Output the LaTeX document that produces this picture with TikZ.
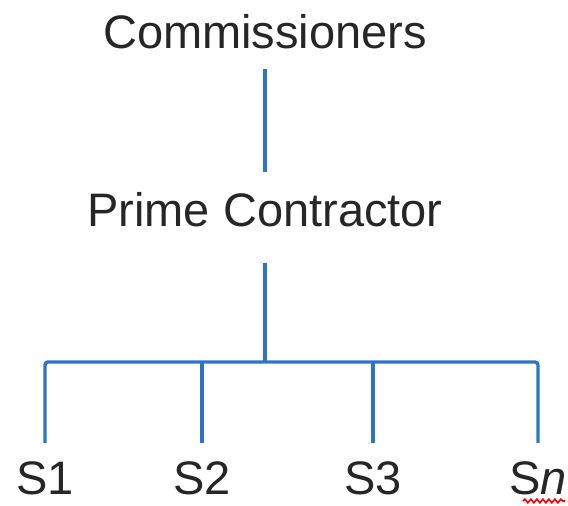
\documentclass[tikz,border=0pt]{standalone}
\usepackage{fontspec}
\setmainfont{Liberation Sans}
\usetikzlibrary{decorations.pathmorphing}
\definecolor{linkblue}{RGB}{46,117,198}

\begin{document}
\begin{tikzpicture}[x=1pt, y=-1pt,
  lbl/.style={font=\fontsize{47}{50}\selectfont, text=black!85, inner xsep=0pt, anchor=base},
  link/.style={linkblue, line width=3.4pt},
  spell/.style={red, line width=1.6pt, decorate,
    decoration={snake, amplitude=1.8pt, segment length=6pt}}]

\useasboundingbox (0,0) rectangle (568,506);

\node [lbl, inner ysep=20pt] (comm)  at (265, 48)  {Commissioners};
\node [lbl, inner ysep=20pt] (prime) at (265, 226) {Prime Contractor};

\node [lbl, inner ysep=18pt] (s1) at (45, 494)  {S1};
\node [lbl, inner ysep=18pt] (s2) at (202, 494) {S2};
\node [lbl, inner ysep=18pt] (s3) at (373, 494) {S3};
\node [lbl, inner ysep=18pt] (sn) at (538, 494) {S\textit{n}};

\coordinate (hub) at (265, 362);

\draw [link] (comm.south) -- (prime.north);
\draw [link] ([yshift=-16pt]prime.south) -- (hub);

% bus to the subcontractors
\draw [link, rounded corners=3pt] (s1.north) |- (hub) -| (sn.north);
\draw [link] (s2.north) -- (s2 |- hub);
\draw [link] (s3.north) -- (s3 |- hub);

\draw [spell] ([xshift=-15pt,yshift=-7pt]sn.base) -- ([xshift=27pt,yshift=-7pt]sn.base);
\end{tikzpicture}
\end{document}
